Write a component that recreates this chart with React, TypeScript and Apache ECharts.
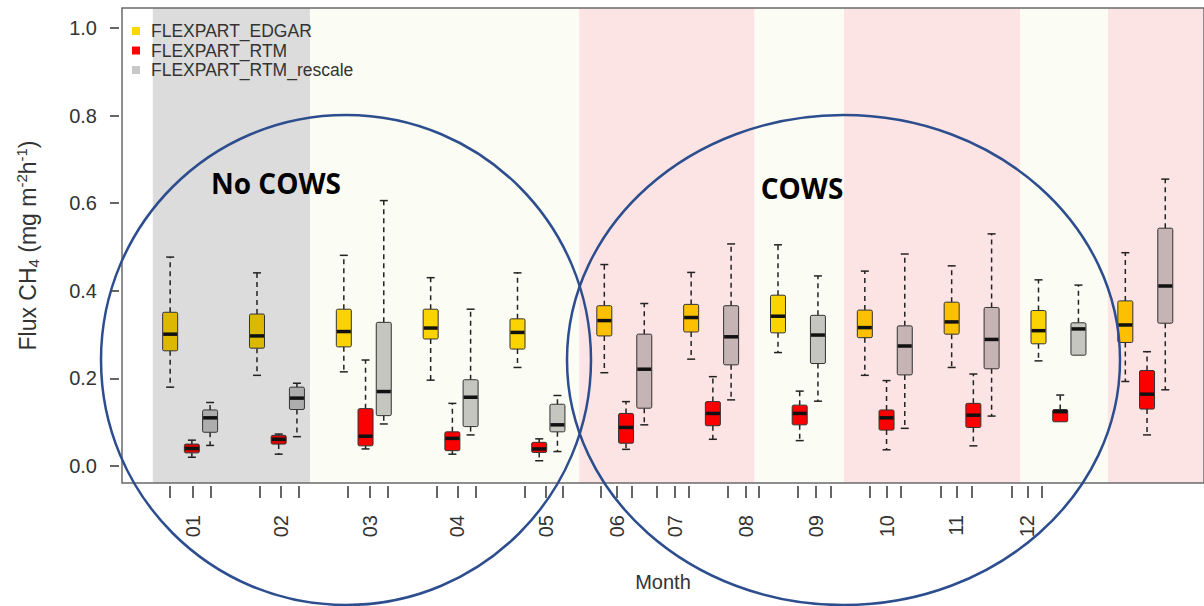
import React, { useEffect, useRef } from 'react';
import * as echarts from 'echarts';

// ---------- data ----------
const months = ['01', '02', '03', '04', '05', '06', '07', '08', '09', '10', '11', '12'];
const seriesNames = ['FLEXPART_EDGAR', 'FLEXPART_RTM', 'FLEXPART_RTM_rescale'];
const seriesColors = ['#FFD700', '#FF0000', '#C8C8C8'];

// each row: [min, Q1, median, Q3, max]  (mg m-2 h-1)
const edgar = [
  [0.180, 0.263, 0.301, 0.351, 0.477],
  [0.207, 0.269, 0.297, 0.347, 0.441],
  [0.215, 0.272, 0.307, 0.358, 0.481],
  [0.196, 0.290, 0.315, 0.358, 0.430],
  [0.225, 0.267, 0.305, 0.336, 0.441],
  [0.213, 0.297, 0.332, 0.366, 0.460],
  [0.244, 0.306, 0.339, 0.369, 0.442],
  [0.259, 0.304, 0.342, 0.390, 0.505],
  [0.207, 0.293, 0.316, 0.356, 0.445],
  [0.225, 0.301, 0.329, 0.374, 0.457],
  [0.240, 0.279, 0.309, 0.355, 0.425],
  [0.193, 0.282, 0.322, 0.377, 0.487],
];
const rtm = [
  [0.020, 0.030, 0.040, 0.050, 0.059],
  [0.027, 0.050, 0.061, 0.070, 0.073],
  [0.039, 0.046, 0.068, 0.131, 0.242],
  [0.027, 0.035, 0.063, 0.078, 0.143],
  [0.012, 0.031, 0.039, 0.054, 0.062],
  [0.038, 0.052, 0.088, 0.120, 0.147],
  [0.061, 0.092, 0.120, 0.147, 0.204],
  [0.058, 0.094, 0.120, 0.139, 0.171],
  [0.037, 0.082, 0.110, 0.128, 0.195],
  [0.046, 0.088, 0.116, 0.143, 0.210],
  [0.100, 0.101, 0.124, 0.129, 0.162],
  [0.071, 0.130, 0.164, 0.218, 0.261],
];
const rescale = [
  [0.047, 0.077, 0.110, 0.128, 0.145],
  [0.067, 0.129, 0.155, 0.180, 0.189],
  [0.096, 0.115, 0.170, 0.328, 0.606],
  [0.071, 0.090, 0.157, 0.197, 0.358],
  [0.033, 0.078, 0.094, 0.141, 0.161],
  [0.094, 0.132, 0.221, 0.301, 0.371],
  [0.151, 0.231, 0.295, 0.366, 0.507],
  [0.148, 0.234, 0.299, 0.344, 0.434],
  [0.086, 0.208, 0.274, 0.320, 0.484],
  [0.114, 0.222, 0.289, 0.362, 0.530],
  [0.253, 0.253, 0.313, 0.327, 0.413],
  [0.174, 0.326, 0.411, 0.543, 0.655],
];

// background season bands (in month units)
const bandStart = [0.55, 2.36, 5.46, 7.48, 8.51, 10.54, 11.55];
const bandEnd = [2.36, 5.46, 7.48, 8.51, 10.54, 11.55, 12.7];
const bandKind = ['grey', 'light', 'pink', 'light', 'pink', 'light', 'pink'];

// axis ticks / labels (as printed in the figure)
const yTicks = [0, 0.2, 0.4, 0.6, 0.8, 1.0];
const xLabelPos = [1.011, 2.023, 3.046, 4.057, 5.080, 5.897, 6.563, 7.379, 8.184, 9.0, 9.805, 10.621];
const xTickPos = [
  0.747, 1.011, 1.218, 1.782, 2.023, 2.230, 2.793, 3.046, 3.253, 3.816, 4.057, 4.264,
  4.828, 5.080, 5.276, 5.713, 5.897, 6.069, 6.356, 6.563, 6.724, 7.172, 7.379, 7.529,
  7.977, 8.184, 8.356, 8.805, 9.0, 9.161, 9.621, 9.805, 9.977, 10.437, 10.621, 10.782,
];

// ---------- styling helpers ----------
const bandColor: Record<string, string> = { grey: '#dcdcdc', light: '#fbfcf3', pink: '#fce4e4' };
const groupOffset = [-0.25, 0, 0.21];
const Y_MIN = -0.0388;
const Y_MAX = 1.0457;

function hexToRgb(h: string) {
  const n = parseInt(h.slice(1), 16);
  return [(n >> 16) & 255, (n >> 8) & 255, n & 255];
}
function bgAt(x: number) {
  for (let i = 0; i < bandStart.length; i++) {
    if (x >= bandStart[i] && x < bandEnd[i]) return bandColor[bandKind[i]];
  }
  return '#ffffff';
}
function multiply(fill: string, bg: string) {
  const a = hexToRgb(fill);
  const b = hexToRgb(bg);
  const c = a.map((v, i) => Math.round((v * b[i]) / 255));
  return `rgb(${c[0]},${c[1]},${c[2]})`;
}

function makeRender(fill: string) {
  return (params: any, api: any) => {
    const x = api.value(0);
    const mn = api.value(1), q1 = api.value(2), md = api.value(3), q3 = api.value(4), mx = api.value(5);
    const pMin = api.coord([x, mn]);
    const pQ1 = api.coord([x, q1]);
    const pMd = api.coord([x, md]);
    const pQ3 = api.coord([x, q3]);
    const pMax = api.coord([x, mx]);
    const cx = pMd[0];
    const w = 15;
    const cap = 4;
    const col = multiply(fill, bgAt(x));
    const children: any[] = [];
    const wStyle = { stroke: '#222', lineWidth: 1.5, lineDash: [5, 4] };
    const cStyle = { stroke: '#222', lineWidth: 1.5 };
    if (pMax[1] < pQ3[1] - 1) {
      children.push({ type: 'line', shape: { x1: cx, y1: pQ3[1], x2: cx, y2: pMax[1] }, style: wStyle });
      children.push({ type: 'line', shape: { x1: cx - cap, y1: pMax[1], x2: cx + cap, y2: pMax[1] }, style: cStyle });
    }
    if (pMin[1] > pQ1[1] + 1) {
      children.push({ type: 'line', shape: { x1: cx, y1: pQ1[1], x2: cx, y2: pMin[1] }, style: wStyle });
      children.push({ type: 'line', shape: { x1: cx - cap, y1: pMin[1], x2: cx + cap, y2: pMin[1] }, style: cStyle });
    }
    children.push({
      type: 'rect',
      shape: { x: cx - w / 2, y: pQ3[1], width: w, height: pQ1[1] - pQ3[1], r: 1.5 },
      style: { fill: col, stroke: '#333', lineWidth: 1 },
    });
    children.push({
      type: 'line',
      shape: { x1: cx - w / 2 + 0.5, y1: pMd[1], x2: cx + w / 2 - 0.5, y2: pMd[1] },
      style: { stroke: '#111', lineWidth: 3.5 },
    });
    return { type: 'group', children };
  };
}

const allData = [edgar, rtm, rescale];

export default function App() {
  const ref = useRef<HTMLDivElement>(null);
  useEffect(() => {
    if (!ref.current) return;
    const chart = echarts.init(ref.current, undefined, { renderer: 'svg' });
    const font = "'Liberation Sans', Arial, sans-serif";

    const bandAreas = bandStart.map((s, i) => [
      { xAxis: s, itemStyle: { color: bandColor[bandKind[i]] } },
      { xAxis: bandEnd[i] },
    ]);

    const boxSeries = seriesNames.map((name, si) => ({
      name,
      type: 'custom',
      z: 3,
      itemStyle: { color: seriesColors[si] },
      encode: { x: 0, y: [1, 2, 3, 4, 5] },
      renderItem: makeRender(seriesColors[si]),
      data: months.map((m, i) => [i + 1 + groupOffset[si], ...allData[si][i]]),
      clip: false,
    }));

    const xCommon = {
      type: 'value',
      min: 0.1954,
      max: 12.656,
      offset: 3,
      position: 'bottom',
      axisLine: { show: false, onZero: false },
      splitLine: { show: false },
    };

    const option: any = {
      animation: false,
      backgroundColor: '#ffffff',
      grid: {
        left: 122,
        right: -2,
        top: 8,
        bottom: 123,
        show: true,
        z: 5,
        backgroundColor: 'transparent',
        borderColor: '#6a6a6a',
        borderWidth: 1.5,
      },
      legend: {
        orient: 'vertical',
        left: 132,
        top: 22,
        padding: 0,
        itemWidth: 8,
        itemHeight: 8,
        itemGap: 1.5,
        icon: 'rect',
        textStyle: { fontFamily: font, fontSize: 17.5, color: '#333', lineHeight: 18, padding: [0, 0, 0, 6] },
        data: seriesNames.map((n, i) => ({ name: n, itemStyle: { color: seriesColors[i] } })),
      },
      xAxis: [
        {
          ...xCommon,
          name: 'Month',
          nameLocation: 'middle',
          nameGap: 86,
          nameTextStyle: { fontFamily: font, fontSize: 20, color: '#333' },
          axisTick: { show: false },
          axisLabel: {
            customValues: xLabelPos,
            rotate: 90,
            margin: 29,
            fontFamily: font,
            fontSize: 20,
            color: '#333',
            formatter: (v: number) => {
              let best = 0;
              xLabelPos.forEach((p, i) => {
                if (Math.abs(p - v) < Math.abs(xLabelPos[best] - v)) best = i;
              });
              return months[best];
            },
          },
        },
        {
          ...xCommon,
          axisLabel: { show: false },
          axisTick: {
            show: true,
            length: 12,
            customValues: xTickPos,
            lineStyle: { color: '#333', width: 1.5 },
          },
        },
      ],
      yAxis: {
        type: 'value',
        min: Y_MIN,
        max: Y_MAX,
        offset: 3,
        z: 6,
        name: 'Flux CH{sub|4} (mg m{sup|-2}h{sup|-1})',
        nameLocation: 'middle',
        nameRotate: 90,
        nameGap: 78,
        nameTextStyle: {
          fontFamily: font,
          fontSize: 23,
          color: '#333',
          lineHeight: 27,
          rich: {
            sub: { fontFamily: font, fontSize: 15, color: '#333', verticalAlign: 'bottom', lineHeight: 15 },
            sup: { fontFamily: font, fontSize: 15, color: '#333', verticalAlign: 'top', lineHeight: 15 },
          },
        },
        axisLine: { show: false, onZero: false },
        splitLine: { show: false },
        axisTick: {
          show: true,
          length: 9,
          customValues: yTicks,
          lineStyle: { color: '#333', width: 1.5 },
        },
        axisLabel: {
          customValues: yTicks,
          margin: 22,
          fontFamily: font,
          fontSize: 20,
          color: '#333',
          formatter: (v: number) => v.toFixed(1),
        },
      },
      series: [
        {
          name: 'bands',
          type: 'line',
          data: [],
          z: 1,
          silent: true,
          markArea: { silent: true, data: bandAreas },
        },
        ...boxSeries,
      ],
      graphic: [
        {
          type: 'ellipse',
          z: 100,
          silent: true,
          shape: { cx: 346, cy: 360, rx: 245, ry: 245 },
          style: { fill: 'none', stroke: '#2c4d8e', lineWidth: 2.5 },
        },
        {
          type: 'ellipse',
          z: 100,
          silent: true,
          shape: { cx: 843.5, cy: 360, rx: 276.5, ry: 245 },
          style: { fill: 'none', stroke: '#2c4d8e', lineWidth: 2.5 },
        },
        {
          type: 'text',
          z: 100,
          x: 276,
          y: 183,
          style: {
            text: 'No COWS',
            fontFamily: "'Open Sans', sans-serif",
            fontWeight: 'bold',
            fontSize: 28,
            fill: '#000',
            align: 'center',
            verticalAlign: 'middle',
          },
        },
        {
          type: 'text',
          z: 100,
          x: 802,
          y: 188,
          style: {
            text: 'COWS',
            fontFamily: "'Open Sans', sans-serif",
            fontWeight: 'bold',
            fontSize: 28,
            fill: '#000',
            align: 'center',
            verticalAlign: 'middle',
          },
        },
      ],
    };
    chart.setOption(option);
    return () => chart.dispose();
  }, []);

  return (
    <div
      ref={ref}
      style={{ position: 'absolute', left: 0, top: 0, width: 1204, height: 606 }}
    />
  );
}
